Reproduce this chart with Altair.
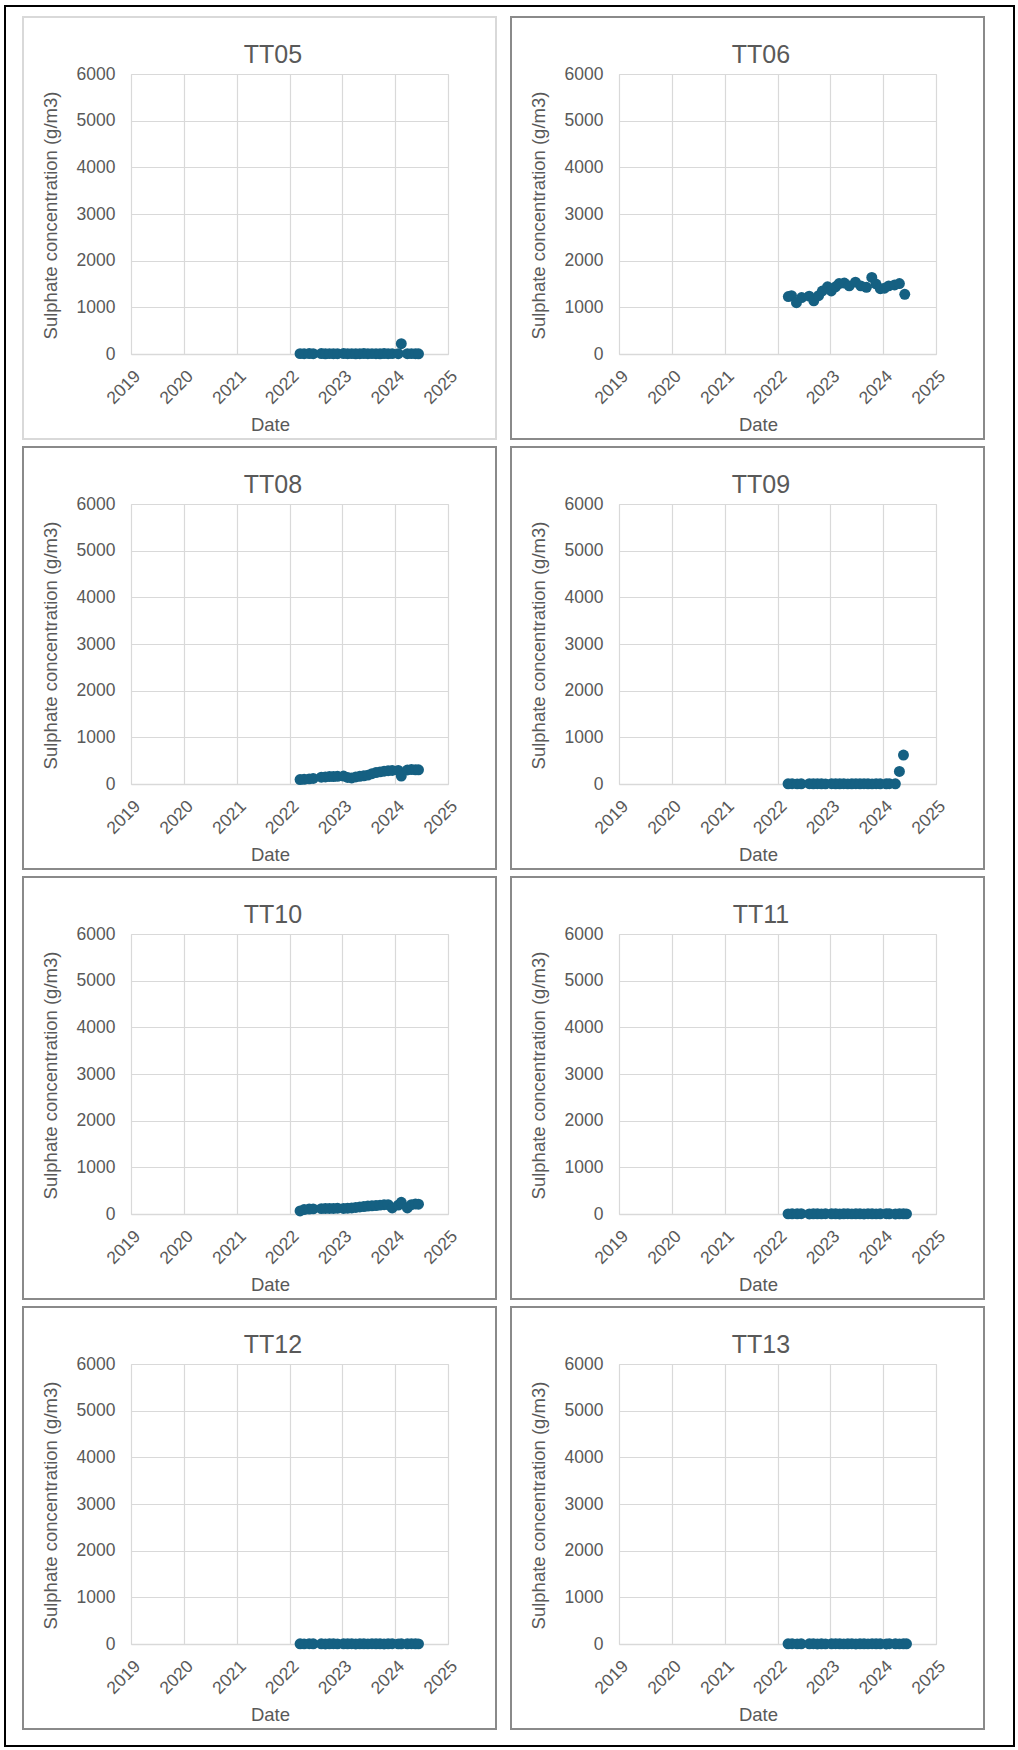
import altair as alt
import pandas as pd

# ---- data -------------------------------------------------------------
SAMPLE_DATES = [
    "2022-03-15", "2022-04-12", "2022-05-17", "2022-06-14", "2022-08-09",
    "2022-09-06", "2022-10-04", "2022-11-01", "2022-11-29", "2023-01-10",
    "2023-02-07", "2023-03-07", "2023-04-04", "2023-05-02", "2023-05-30",
    "2023-06-27", "2023-07-25", "2023-08-22", "2023-09-19", "2023-10-17",
    "2023-11-14", "2023-12-12", "2024-01-23", "2024-02-13", "2024-03-26",
    "2024-04-23", "2024-05-21", "2024-06-11",
]

TT05_SO4 = [8, 6, 10, 7, 9, 5, 8, 6, 7, 9, 6, 8, 5, 7,
            9, 6, 8, 7, 5, 9, 6, 8, 7, 220, 6, 8, 7, 5]

TT06_DATES = [
    "2022-03-17", "2022-04-08", "2022-05-12", "2022-06-17", "2022-08-08",
    "2022-09-09", "2022-10-12", "2022-11-07", "2022-12-13", "2023-01-08",
    "2023-02-06", "2023-03-03", "2023-04-08", "2023-05-12", "2023-06-24",
    "2023-07-31", "2023-09-08", "2023-10-15", "2023-11-13", "2023-12-13",
    "2024-01-11", "2024-02-09", "2024-03-21", "2024-04-23", "2024-05-30",
]
TT06_SO4 = [1230, 1250, 1100, 1210, 1240, 1140, 1250, 1350, 1440, 1350,
            1440, 1510, 1520, 1460, 1540, 1460, 1430, 1640, 1500, 1400,
            1410, 1460, 1480, 1510, 1280]

TT08_SO4 = [95, 100, 110, 120, 145, 150, 160, 160, 165, 170, 140, 130, 150, 165,
            175, 190, 220, 245, 260, 275, 285, 290, 290, 170, 300, 310, 305, 305]

TT09_SO4 = [4, 6, 3, 5, 7, 4, 6, 5, 3, 6, 4, 5, 7, 3,
            5, 6, 4, 7, 5, 3, 6, 4, 5, 6, 4, 270, 620, None]

TT10_SO4 = [65, 95, 105, 110, 115, 120, 120, 120, 125, 120, 125, 130, 140, 150,
            160, 170, 175, 180, 190, 200, 200, 130, 190, 250, 130, 200, 215, 210]

TT11_SO4 = [3, 5, 4, 6, 2, 4, 5, 3, 6, 4, 5, 2, 4, 6,
            3, 5, 4, 2, 6, 5, 3, 4, 6, 5, 2, 4, 5, 3]

TT12_SO4 = [5, 3, 6, 4, 5, 2, 4, 6, 3, 5, 4, 6, 2, 5,
            4, 3, 6, 5, 4, 2, 5, 6, 3, 4, 5, 6, 4, 3]

TT13_SO4 = [4, 6, 3, 5, 4, 6, 2, 5, 3, 4, 6, 5, 3, 4,
            6, 2, 5, 4, 3, 6, 4, 5, 2, 6, 4, 3, 5, 4]

SITES = ["TT05", "TT06", "TT08", "TT09", "TT10", "TT11", "TT12", "TT13"]
SITE_DATES = [SAMPLE_DATES, TT06_DATES] + [SAMPLE_DATES] * 6
SITE_SO4 = [TT05_SO4, TT06_SO4, TT08_SO4, TT09_SO4,
            TT10_SO4, TT11_SO4, TT12_SO4, TT13_SO4]

YEAR_TICKS = [2019, 2020, 2021, 2022, 2023, 2024, 2025]
CONC_TICKS = [0, 1000, 2000, 3000, 4000, 5000, 6000]

# ---- styling ----------------------------------------------------------
FONT = "Liberation Sans"
POINT_BLUE = "#156082"
TEXT_GREY = "#595959"
GRID_GREY = "#d9d9d9"
FRAME_GREY = "#8a8a8a"

PLOT_W, PLOT_H = 317, 280


def jan1(year):
    return alt.DateTime(year=year, month=1, date=1)


def site_panel(name, dates, values, frame_colour, outer_border=False):
    df = pd.DataFrame({"Date": pd.to_datetime(dates), "Sulphate": values}).dropna()
    one_row = pd.DataFrame({"k": [0]})

    x_enc = alt.X(
        "Date:T",
        title="Date",
        scale=alt.Scale(domain=[jan1(2019), jan1(2025)], nice=False),
        axis=alt.Axis(
            values=[jan1(y) for y in YEAR_TICKS],
            format="%Y",
            grid=True, gridColor=GRID_GREY, gridWidth=1.2,
            domainColor=GRID_GREY, domainWidth=1.5,
            ticks=False,
            labelAngle=-45, labelAlign="right", labelBaseline="top",
            labelPadding=13, labelFlush=False, labelOverlap=False,
            labelColor=TEXT_GREY, labelFont=FONT, labelFontSize=17.5,
            titleColor=TEXT_GREY, titleFont=FONT, titleFontSize=18.5,
            titleFontWeight="normal", titleX=139, titleY=76,
            titleAlign="center", titleBaseline="alphabetic",
        ),
    )
    y_enc = alt.Y(
        "Sulphate:Q",
        title="Sulphate concentration (g/m3)",
        scale=alt.Scale(domain=[0, 6000], nice=False),
        axis=alt.Axis(
            values=CONC_TICKS,
            format="d",
            grid=True, gridColor=GRID_GREY, gridWidth=1.2,
            domain=False, ticks=False,
            labelPadding=16,
            labelColor=TEXT_GREY, labelFont=FONT, labelFontSize=17.5,
            titleColor=TEXT_GREY, titleFont=FONT, titleFontSize=18.5,
            titleFontWeight="normal", titleAngle=-90, titleX=-75, titleY=141,
            titleAlign="center", titleBaseline="alphabetic",
        ),
    )

    points = alt.Chart(df).mark_circle(
        size=120, color=POINT_BLUE, opacity=1
    ).encode(x=x_enc, y=y_enc)

    frame = alt.Chart(one_row).mark_rect(
        filled=False, stroke=frame_colour, strokeWidth=2
    ).encode(
        x=alt.value(-108), x2=alt.value(365),
        y=alt.value(-57), y2=alt.value(365),
    )

    heading = alt.Chart(one_row).mark_text(
        text=name, font=FONT, fontSize=25, color=TEXT_GREY,
        align="center", baseline="alphabetic",
    ).encode(x=alt.value(142), y=alt.value(-11))

    layers = [frame, heading, points]
    if outer_border:
        page = alt.Chart(one_row).mark_rect(
            filled=False, stroke="#000000", strokeWidth=2
        ).encode(
            x=alt.value(-126), x2=alt.value(883),
            y=alt.value(-68), y2=alt.value(1672),
        )
        layers = [page] + layers

    return alt.layer(*layers).properties(width=PLOT_W, height=PLOT_H)


panels = [
    site_panel(
        name, dates, values,
        GRID_GREY if i == 0 else FRAME_GREY,
        outer_border=(i == 0),
    )
    for i, (name, dates, values) in enumerate(zip(SITES, SITE_DATES, SITE_SO4))
]

chart = alt.concat(
    *panels, columns=2, spacing={"row": 150, "column": 171}, bounds="flush"
).properties(
    padding={"left": 3, "top": 4, "right": 0, "bottom": 0},
    background="#ffffff",
).configure_view(stroke=None).configure(font=FONT)

chart.save("out.html", embed_options={"renderer": "svg", "actions": False})
